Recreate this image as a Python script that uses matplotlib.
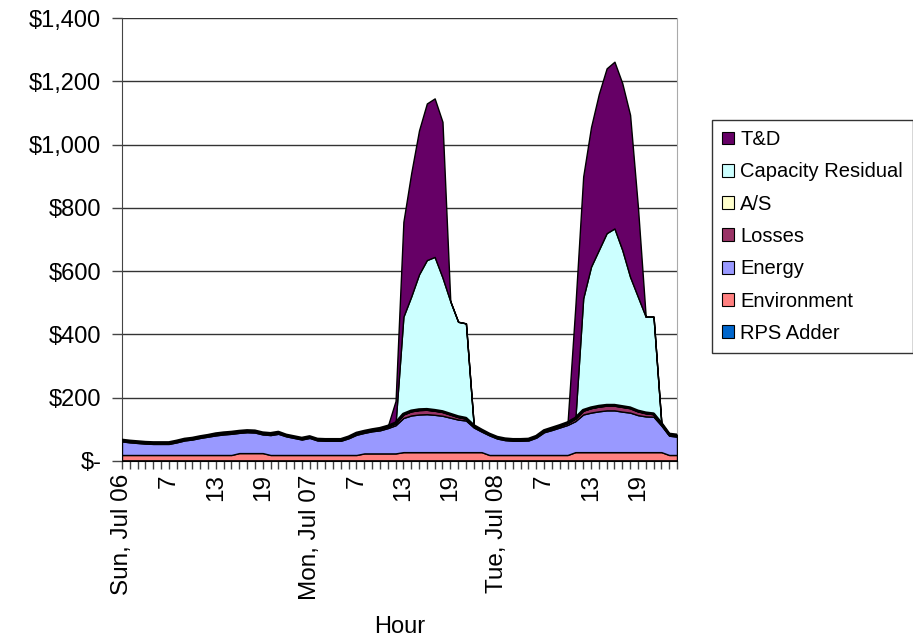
import numpy as np
import matplotlib
matplotlib.use("Agg")
import matplotlib.pyplot as plt
from matplotlib.patches import Patch

plt.rcParams['font.family'] = ['Liberation Sans', 'DejaVu Sans']

# hourly cost components, Sun Jul 06 .. Tue Jul 08 (72 hours)
hours = list(range(72))

rps_adder = [2, 2, 2, 2, 2, 2, 2, 2, 2, 2, 2, 2, 2, 2, 2, 2, 2, 2, 2, 2, 2, 2, 2, 2,
             2, 2, 2, 2, 2, 2, 2, 2, 2, 2, 2, 2, 2, 2, 2, 2, 2, 2, 2, 2, 2, 2, 2, 2,
             2, 2, 2, 2, 2, 2, 2, 2, 2, 2, 2, 2, 2, 2, 2, 2, 2, 2, 2, 2, 2, 2, 2, 2]
environment = [17, 17, 17, 17, 17, 17, 17, 17, 17, 17, 17, 17, 17, 17, 17, 23, 23, 23, 23, 17, 17, 17, 17, 17,
               17, 17, 17, 17, 17, 17, 17, 22, 22, 22, 22, 22, 26, 26, 26, 26, 26, 26, 26, 26, 26, 26, 26, 17,
               17, 17, 17, 17, 17, 17, 17, 17, 17, 17, 26, 26, 26, 26, 26, 26, 26, 26, 26, 26, 26, 26, 17, 17]
energy = [43, 40, 38, 36, 35, 35, 35, 40, 46, 49, 54, 58, 62, 65, 67, 64, 66, 65, 59, 63, 67, 59, 54, 49,
          54, 46, 45, 45, 45, 53, 64, 65, 70, 73, 80, 89, 108, 116, 119, 120, 118, 115, 109, 103, 100, 78, 65, 62,
          52, 47, 45, 45, 46, 55, 72, 79, 87, 95, 98, 119, 125, 129, 132, 132, 128, 125, 117, 113, 112, 84, 61, 58]
losses = [3, 3, 3, 3, 3, 3, 3, 3, 3, 3, 3, 3, 4, 4, 4, 4, 4, 4, 4, 4, 4, 3, 3, 3,
          3, 3, 3, 3, 3, 3, 4, 4, 4, 5, 5, 6, 11, 13, 14, 14, 13, 12, 10, 8, 6, 5, 4, 3,
          3, 3, 3, 3, 3, 3, 4, 5, 5, 6, 8, 12, 14, 15, 15, 15, 15, 14, 12, 10, 8, 6, 4, 4]
ancillary = [1, 1, 1, 1, 1, 1, 1, 1, 1, 1, 1, 1, 1, 1, 1, 1, 1, 1, 1, 1, 1, 1, 1, 1,
             1, 1, 1, 1, 1, 1, 1, 1, 1, 1, 1, 1, 1, 1, 1, 1, 1, 1, 1, 1, 1, 1, 1, 1,
             1, 1, 1, 1, 1, 1, 1, 1, 1, 1, 1, 1, 1, 1, 1, 1, 1, 1, 1, 1, 1, 1, 1, 1]
capacity = [0, 0, 0, 0, 0, 0, 0, 0, 0, 0, 0, 0, 0, 0, 0, 0, 0, 0, 0, 0, 0, 0, 0, 0,
            0, 0, 0, 0, 0, 0, 0, 0, 0, 0, 0, 0, 308, 362, 428, 472, 485, 424, 357, 300, 300, 0, 0, 0,
            0, 0, 0, 0, 0, 0, 0, 0, 0, 0, 0, 354, 446, 494, 544, 559, 495, 414, 361, 304, 307, 0, 0, 0]
t_and_d = [0, 0, 0, 0, 0, 0, 0, 0, 0, 0, 0, 0, 0, 0, 0, 0, 0, 0, 0, 0, 0, 0, 0, 0,
           0, 0, 0, 0, 0, 0, 0, 0, 0, 0, 0, 70, 300, 390, 455, 495, 501, 492, 0, 0, 0, 0, 0, 0,
           0, 0, 0, 0, 0, 0, 0, 0, 0, 0, 355, 385, 441, 493, 521, 527, 527, 512, 285, 0, 0, 0, 0, 0]

series_names = ['RPS Adder', 'Environment', 'Energy', 'Losses', 'A/S', 'Capacity Residual', 'T&D']
series_colors = ['#0066CC', '#FF8080', '#9999FF', '#993366', '#FFFFCC', '#CCFFFF', '#660066']

tick_pos = [0, 6, 12, 18, 24, 30, 36, 42, 48, 54, 60, 66]
tick_labels = ['Sun, Jul 06', '7', '13', '19', 'Mon, Jul 07', '7', '13', '19',
               'Tue, Jul 08', '7', '13', '19']
y_ticks = [0, 200, 400, 600, 800, 1000, 1200, 1400]
y_labels = ['$-', '$200', '$400', '$600', '$800', '$1,000', '$1,200', '$1,400']

fig = plt.figure(figsize=(9.13, 6.37), dpi=100)
ax = fig.add_axes([0.1336, 0.2763, 0.6079, 0.6954])

ax.stackplot(hours, rps_adder, environment, energy, losses, ancillary, capacity, t_and_d,
             colors=series_colors, edgecolor='black', linewidth=1.0, zorder=3)

# overlapping borders make the base-load outline look heavier
base_top = np.array(rps_adder) + environment + np.array(energy) + losses + ancillary
ax.plot(hours, base_top, color='black', linewidth=2.2, zorder=4)

ax.set_xlim(0, 71)
ax.set_ylim(0, 1400)
ax.set_yticks(y_ticks)
ax.set_yticklabels(y_labels, fontsize=17)
ax.set_xticks(tick_pos)
ax.set_xticklabels(tick_labels, rotation=90, fontsize=17.5)
ax.set_xticks(hours, minor=True)
ax.tick_params(axis='x', which='both', direction='out', length=6, width=1, color='#444444')
ax.tick_params(axis='y', direction='out', length=7, width=1, color='#444444', pad=8)
ax.yaxis.grid(True, color='#333333', linewidth=1)
ax.set_axisbelow(True)

ax.spines['top'].set_visible(False)
ax.spines['right'].set_color('#AAAAAA')
ax.spines['left'].set_color('#444444')
ax.spines['bottom'].set_color('#222222')

ax.set_xlabel('Hour', fontsize=17, labelpad=12)

handles = [Patch(facecolor=c, edgecolor='black', linewidth=0.8) for c in series_colors][::-1]
labels = series_names[::-1]
leg = fig.legend(handles, labels, loc='upper left', bbox_to_anchor=(712 / 913, 1 - 120 / 637),
                 fontsize=14.5, frameon=True, fancybox=False, edgecolor='black',
                 handlelength=0.6, handleheight=0.6, handletextpad=0.3,
                 labelspacing=0.66, borderpad=0.5, borderaxespad=0)
leg.get_frame().set_linewidth(1)

plt.savefig('out.png', dpi=100)
plt.close()
